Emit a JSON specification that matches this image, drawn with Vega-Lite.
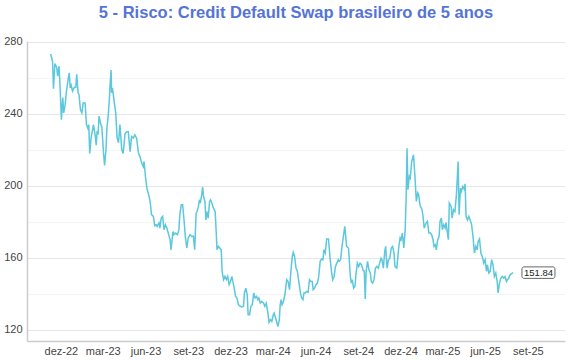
{
  "$schema": "https://vega.github.io/schema/vega-lite/v6.json",
  "width": 538,
  "height": 300,
  "autosize": "none",
  "padding": {"left": 27, "top": 41, "right": 5, "bottom": 19},
  "background": "white",
  "title": {
    "text": "5 - Risco: Credit Default Swap brasileiro de 5 anos",
    "fontSize": 16.5,
    "fontWeight": "bold",
    "font": "Liberation Sans",
    "color": "#5574d4",
    "anchor": "middle",
    "frame": "group",
    "baseline": "alphabetic",
    "offset": 1
  },
  "config": {
    "view": {"stroke": null},
    "font": "Liberation Sans"
  },
  "datasets": {
    "main": [
      {"date": "2022-11-09", "value": 273.3},
      {"date": "2022-11-13", "value": 269},
      {"date": "2022-11-15", "value": 254},
      {"date": "2022-11-18", "value": 268},
      {"date": "2022-11-22", "value": 265.6},
      {"date": "2022-11-24", "value": 261},
      {"date": "2022-11-27", "value": 266.5},
      {"date": "2022-11-29", "value": 256},
      {"date": "2022-12-02", "value": 236.8},
      {"date": "2022-12-05", "value": 249},
      {"date": "2022-12-07", "value": 240.5},
      {"date": "2022-12-10", "value": 245},
      {"date": "2022-12-13", "value": 252.6},
      {"date": "2022-12-17", "value": 260},
      {"date": "2022-12-19", "value": 262.8},
      {"date": "2022-12-21", "value": 254.4},
      {"date": "2022-12-23", "value": 256},
      {"date": "2022-12-26", "value": 252.6},
      {"date": "2022-12-30", "value": 254.8},
      {"date": "2023-01-02", "value": 254.8},
      {"date": "2023-01-04", "value": 262},
      {"date": "2023-01-07", "value": 251.7},
      {"date": "2023-01-09", "value": 250.7},
      {"date": "2023-01-12", "value": 242.4},
      {"date": "2023-01-15", "value": 240.5},
      {"date": "2023-01-18", "value": 246},
      {"date": "2023-01-22", "value": 246},
      {"date": "2023-01-25", "value": 234},
      {"date": "2023-01-28", "value": 232},
      {"date": "2023-01-30", "value": 234},
      {"date": "2023-02-01", "value": 218},
      {"date": "2023-02-04", "value": 226.7},
      {"date": "2023-02-07", "value": 231},
      {"date": "2023-02-09", "value": 234},
      {"date": "2023-02-13", "value": 227.6},
      {"date": "2023-02-15", "value": 222.6},
      {"date": "2023-02-17", "value": 230.4},
      {"date": "2023-02-19", "value": 228.5},
      {"date": "2023-02-21", "value": 238.7},
      {"date": "2023-02-25", "value": 234},
      {"date": "2023-02-27", "value": 233},
      {"date": "2023-03-03", "value": 217.4},
      {"date": "2023-03-05", "value": 211.3},
      {"date": "2023-03-08", "value": 220},
      {"date": "2023-03-10", "value": 232},
      {"date": "2023-03-13", "value": 239.6},
      {"date": "2023-03-15", "value": 247},
      {"date": "2023-03-17", "value": 257},
      {"date": "2023-03-19", "value": 264.4},
      {"date": "2023-03-20", "value": 251.7},
      {"date": "2023-03-22", "value": 254.4},
      {"date": "2023-03-26", "value": 246},
      {"date": "2023-03-29", "value": 240.5},
      {"date": "2023-04-01", "value": 226.7},
      {"date": "2023-04-04", "value": 224},
      {"date": "2023-04-07", "value": 234},
      {"date": "2023-04-11", "value": 220},
      {"date": "2023-04-14", "value": 218},
      {"date": "2023-04-18", "value": 229},
      {"date": "2023-04-22", "value": 230},
      {"date": "2023-04-25", "value": 230},
      {"date": "2023-04-29", "value": 219},
      {"date": "2023-05-02", "value": 227.4},
      {"date": "2023-05-06", "value": 226.5},
      {"date": "2023-05-09", "value": 228.3},
      {"date": "2023-05-13", "value": 226.5},
      {"date": "2023-05-17", "value": 218},
      {"date": "2023-05-20", "value": 216.3},
      {"date": "2023-05-24", "value": 212.6},
      {"date": "2023-05-27", "value": 210.7},
      {"date": "2023-05-29", "value": 213.5},
      {"date": "2023-06-01", "value": 205},
      {"date": "2023-06-04", "value": 198.7},
      {"date": "2023-06-07", "value": 196},
      {"date": "2023-06-11", "value": 191.3},
      {"date": "2023-06-14", "value": 184},
      {"date": "2023-06-18", "value": 183},
      {"date": "2023-06-21", "value": 177.8},
      {"date": "2023-06-24", "value": 178.3},
      {"date": "2023-06-26", "value": 177.4},
      {"date": "2023-06-30", "value": 179.3},
      {"date": "2023-07-02", "value": 176.5},
      {"date": "2023-07-05", "value": 182},
      {"date": "2023-07-08", "value": 183},
      {"date": "2023-07-11", "value": 175.6},
      {"date": "2023-07-14", "value": 178.3},
      {"date": "2023-07-17", "value": 176.5},
      {"date": "2023-07-20", "value": 173.7},
      {"date": "2023-07-24", "value": 170},
      {"date": "2023-07-26", "value": 164.4},
      {"date": "2023-07-30", "value": 174.6},
      {"date": "2023-08-01", "value": 172.8},
      {"date": "2023-08-04", "value": 173.7},
      {"date": "2023-08-09", "value": 172.8},
      {"date": "2023-08-12", "value": 175.6},
      {"date": "2023-08-14", "value": 184},
      {"date": "2023-08-17", "value": 189.4},
      {"date": "2023-08-20", "value": 189.4},
      {"date": "2023-08-23", "value": 181},
      {"date": "2023-08-26", "value": 171},
      {"date": "2023-08-29", "value": 165.4},
      {"date": "2023-09-01", "value": 171},
      {"date": "2023-09-05", "value": 172.8},
      {"date": "2023-09-09", "value": 171.8},
      {"date": "2023-09-12", "value": 172},
      {"date": "2023-09-15", "value": 164.5},
      {"date": "2023-09-18", "value": 184.8},
      {"date": "2023-09-20", "value": 185.7},
      {"date": "2023-09-23", "value": 188.5},
      {"date": "2023-09-25", "value": 192.2},
      {"date": "2023-09-27", "value": 190.4},
      {"date": "2023-09-30", "value": 195},
      {"date": "2023-10-02", "value": 199.3},
      {"date": "2023-10-04", "value": 194},
      {"date": "2023-10-07", "value": 191.3},
      {"date": "2023-10-09", "value": 181},
      {"date": "2023-10-11", "value": 185.7},
      {"date": "2023-10-14", "value": 182},
      {"date": "2023-10-17", "value": 191.3},
      {"date": "2023-10-19", "value": 192.2},
      {"date": "2023-10-22", "value": 190.4},
      {"date": "2023-10-24", "value": 188.5},
      {"date": "2023-10-27", "value": 186.7},
      {"date": "2023-10-29", "value": 185.7},
      {"date": "2023-10-31", "value": 175.6},
      {"date": "2023-11-02", "value": 164.4},
      {"date": "2023-11-05", "value": 166.3},
      {"date": "2023-11-08", "value": 165.4},
      {"date": "2023-11-11", "value": 164.4},
      {"date": "2023-11-13", "value": 152.4},
      {"date": "2023-11-16", "value": 147.8},
      {"date": "2023-11-19", "value": 149.6},
      {"date": "2023-11-22", "value": 147.8},
      {"date": "2023-11-25", "value": 149.6},
      {"date": "2023-11-28", "value": 145},
      {"date": "2023-12-01", "value": 146.8},
      {"date": "2023-12-04", "value": 149.6},
      {"date": "2023-12-06", "value": 146.8},
      {"date": "2023-12-09", "value": 143.1},
      {"date": "2023-12-12", "value": 138.5},
      {"date": "2023-12-15", "value": 137.6},
      {"date": "2023-12-18", "value": 133.9},
      {"date": "2023-12-22", "value": 133},
      {"date": "2023-12-25", "value": 132.6},
      {"date": "2023-12-29", "value": 133},
      {"date": "2023-12-31", "value": 140.4},
      {"date": "2024-01-03", "value": 143.1},
      {"date": "2024-01-06", "value": 139.4},
      {"date": "2024-01-08", "value": 128.3},
      {"date": "2024-01-11", "value": 128.3},
      {"date": "2024-01-14", "value": 133},
      {"date": "2024-01-17", "value": 133.9},
      {"date": "2024-01-20", "value": 140.4},
      {"date": "2024-01-23", "value": 137.6},
      {"date": "2024-01-26", "value": 138.5},
      {"date": "2024-01-29", "value": 136.7},
      {"date": "2024-01-31", "value": 137.6},
      {"date": "2024-02-03", "value": 134.8},
      {"date": "2024-02-06", "value": 135.7},
      {"date": "2024-02-10", "value": 134.8},
      {"date": "2024-02-13", "value": 133},
      {"date": "2024-02-16", "value": 134.8},
      {"date": "2024-02-19", "value": 130.2},
      {"date": "2024-02-22", "value": 124.1},
      {"date": "2024-02-25", "value": 125.6},
      {"date": "2024-02-28", "value": 124.6},
      {"date": "2024-03-02", "value": 128.3},
      {"date": "2024-03-04", "value": 129.3},
      {"date": "2024-03-07", "value": 126.5},
      {"date": "2024-03-10", "value": 123.7},
      {"date": "2024-03-12", "value": 121.8},
      {"date": "2024-03-15", "value": 125.2},
      {"date": "2024-03-17", "value": 133.9},
      {"date": "2024-03-19", "value": 136.7},
      {"date": "2024-03-21", "value": 133.9},
      {"date": "2024-03-24", "value": 135.7},
      {"date": "2024-03-27", "value": 139.4},
      {"date": "2024-03-31", "value": 147.8},
      {"date": "2024-04-03", "value": 146.8},
      {"date": "2024-04-06", "value": 142.2},
      {"date": "2024-04-09", "value": 152.4},
      {"date": "2024-04-12", "value": 160.7},
      {"date": "2024-04-14", "value": 163},
      {"date": "2024-04-17", "value": 160.7},
      {"date": "2024-04-20", "value": 154.2},
      {"date": "2024-04-23", "value": 152.4},
      {"date": "2024-04-26", "value": 146.8},
      {"date": "2024-04-29", "value": 141.3},
      {"date": "2024-05-02", "value": 137.6},
      {"date": "2024-05-05", "value": 136.7},
      {"date": "2024-05-07", "value": 140.4},
      {"date": "2024-05-10", "value": 140.4},
      {"date": "2024-05-13", "value": 141.3},
      {"date": "2024-05-16", "value": 140.8},
      {"date": "2024-05-19", "value": 147.8},
      {"date": "2024-05-22", "value": 146.8},
      {"date": "2024-05-25", "value": 146.8},
      {"date": "2024-05-27", "value": 142.2},
      {"date": "2024-05-30", "value": 143.1},
      {"date": "2024-06-02", "value": 145},
      {"date": "2024-06-05", "value": 145.9},
      {"date": "2024-06-08", "value": 149.6},
      {"date": "2024-06-11", "value": 158},
      {"date": "2024-06-14", "value": 159.3},
      {"date": "2024-06-17", "value": 158.9},
      {"date": "2024-06-19", "value": 164.4},
      {"date": "2024-06-22", "value": 162.6},
      {"date": "2024-06-25", "value": 170.4},
      {"date": "2024-06-29", "value": 170.4},
      {"date": "2024-07-02", "value": 160.7},
      {"date": "2024-07-05", "value": 153.3},
      {"date": "2024-07-08", "value": 147.8},
      {"date": "2024-07-11", "value": 149.6},
      {"date": "2024-07-14", "value": 155.2},
      {"date": "2024-07-17", "value": 157},
      {"date": "2024-07-20", "value": 158.9},
      {"date": "2024-07-22", "value": 158},
      {"date": "2024-07-25", "value": 158.9},
      {"date": "2024-07-28", "value": 166.3},
      {"date": "2024-07-31", "value": 171.8},
      {"date": "2024-08-03", "value": 177.4},
      {"date": "2024-08-07", "value": 166.3},
      {"date": "2024-08-11", "value": 165.4},
      {"date": "2024-08-15", "value": 149.6},
      {"date": "2024-08-17", "value": 145.9},
      {"date": "2024-08-19", "value": 147.8},
      {"date": "2024-08-22", "value": 143.1},
      {"date": "2024-08-25", "value": 144.1},
      {"date": "2024-08-27", "value": 150.6},
      {"date": "2024-08-30", "value": 157},
      {"date": "2024-09-02", "value": 155.2},
      {"date": "2024-09-05", "value": 157},
      {"date": "2024-09-08", "value": 156.1},
      {"date": "2024-09-11", "value": 153.3},
      {"date": "2024-09-14", "value": 152.4},
      {"date": "2024-09-16", "value": 137},
      {"date": "2024-09-18", "value": 152.4},
      {"date": "2024-09-21", "value": 158},
      {"date": "2024-09-24", "value": 153.3},
      {"date": "2024-09-27", "value": 151.5},
      {"date": "2024-09-29", "value": 146.8},
      {"date": "2024-10-02", "value": 145.9},
      {"date": "2024-10-05", "value": 147.8},
      {"date": "2024-10-08", "value": 154.2},
      {"date": "2024-10-11", "value": 155.2},
      {"date": "2024-10-14", "value": 154.2},
      {"date": "2024-10-17", "value": 157},
      {"date": "2024-10-20", "value": 159.8},
      {"date": "2024-10-22", "value": 158.9},
      {"date": "2024-10-25", "value": 154.2},
      {"date": "2024-10-28", "value": 163.5},
      {"date": "2024-10-30", "value": 166.3},
      {"date": "2024-11-02", "value": 154.2},
      {"date": "2024-11-05", "value": 158.9},
      {"date": "2024-11-08", "value": 159.8},
      {"date": "2024-11-11", "value": 165.4},
      {"date": "2024-11-14", "value": 166.3},
      {"date": "2024-11-17", "value": 162.6},
      {"date": "2024-11-19", "value": 155.2},
      {"date": "2024-11-23", "value": 154.2},
      {"date": "2024-11-27", "value": 165.4},
      {"date": "2024-11-30", "value": 171},
      {"date": "2024-12-02", "value": 170},
      {"date": "2024-12-05", "value": 173.7},
      {"date": "2024-12-08", "value": 165.4},
      {"date": "2024-12-11", "value": 175.6},
      {"date": "2024-12-13", "value": 192.2},
      {"date": "2024-12-15", "value": 220.9},
      {"date": "2024-12-17", "value": 197.8},
      {"date": "2024-12-20", "value": 205.2},
      {"date": "2024-12-22", "value": 204.3},
      {"date": "2024-12-25", "value": 213.5},
      {"date": "2024-12-29", "value": 217.2},
      {"date": "2025-01-01", "value": 205.2},
      {"date": "2025-01-04", "value": 191.3},
      {"date": "2025-01-07", "value": 196},
      {"date": "2025-01-09", "value": 195},
      {"date": "2025-01-12", "value": 189},
      {"date": "2025-01-16", "value": 187},
      {"date": "2025-01-18", "value": 183.9},
      {"date": "2025-01-21", "value": 176.5},
      {"date": "2025-01-25", "value": 179.3},
      {"date": "2025-01-28", "value": 180.2},
      {"date": "2025-01-31", "value": 173.7},
      {"date": "2025-02-03", "value": 173.7},
      {"date": "2025-02-06", "value": 172.8},
      {"date": "2025-02-09", "value": 170},
      {"date": "2025-02-11", "value": 166.3},
      {"date": "2025-02-14", "value": 167.2},
      {"date": "2025-02-16", "value": 164.4},
      {"date": "2025-02-19", "value": 170},
      {"date": "2025-02-22", "value": 171.8},
      {"date": "2025-02-24", "value": 180.2},
      {"date": "2025-02-27", "value": 182},
      {"date": "2025-03-01", "value": 175.6},
      {"date": "2025-03-04", "value": 178.3},
      {"date": "2025-03-07", "value": 176.5},
      {"date": "2025-03-09", "value": 179.6},
      {"date": "2025-03-11", "value": 175.6},
      {"date": "2025-03-14", "value": 170},
      {"date": "2025-03-16", "value": 190.4},
      {"date": "2025-03-20", "value": 188.5},
      {"date": "2025-03-22", "value": 182},
      {"date": "2025-03-25", "value": 186.7},
      {"date": "2025-03-28", "value": 185.7},
      {"date": "2025-03-31", "value": 194},
      {"date": "2025-04-02", "value": 203.3},
      {"date": "2025-04-04", "value": 213.5},
      {"date": "2025-04-06", "value": 183.9},
      {"date": "2025-04-09", "value": 198.7},
      {"date": "2025-04-11", "value": 196.9},
      {"date": "2025-04-14", "value": 199.6},
      {"date": "2025-04-17", "value": 198.2},
      {"date": "2025-04-19", "value": 201.1},
      {"date": "2025-04-21", "value": 183},
      {"date": "2025-04-24", "value": 181},
      {"date": "2025-04-27", "value": 183},
      {"date": "2025-04-30", "value": 181},
      {"date": "2025-05-03", "value": 178.3},
      {"date": "2025-05-06", "value": 171.8},
      {"date": "2025-05-09", "value": 162.6},
      {"date": "2025-05-12", "value": 166.3},
      {"date": "2025-05-15", "value": 164.4},
      {"date": "2025-05-17", "value": 169},
      {"date": "2025-05-20", "value": 170.4},
      {"date": "2025-05-23", "value": 162.6},
      {"date": "2025-05-26", "value": 160.7},
      {"date": "2025-05-29", "value": 157},
      {"date": "2025-06-01", "value": 158.9},
      {"date": "2025-06-04", "value": 152.4},
      {"date": "2025-06-06", "value": 156.1},
      {"date": "2025-06-09", "value": 151.5},
      {"date": "2025-06-12", "value": 152.4},
      {"date": "2025-06-15", "value": 158.9},
      {"date": "2025-06-18", "value": 156.1},
      {"date": "2025-06-21", "value": 149.6},
      {"date": "2025-06-24", "value": 151.5},
      {"date": "2025-06-27", "value": 146.8},
      {"date": "2025-06-29", "value": 140.4},
      {"date": "2025-07-02", "value": 145.9},
      {"date": "2025-07-05", "value": 148.7},
      {"date": "2025-07-08", "value": 149.6},
      {"date": "2025-07-11", "value": 148.7},
      {"date": "2025-07-14", "value": 149.6},
      {"date": "2025-07-17", "value": 146.8},
      {"date": "2025-07-19", "value": 147.8},
      {"date": "2025-07-22", "value": 148.7},
      {"date": "2025-07-25", "value": 150.6},
      {"date": "2025-07-28", "value": 151},
      {"date": "2025-07-31", "value": 151.84}
    ],
    "last": [
      {"date": "2025-07-31", "value": 151.84, "label": "151.84"}
    ]
  },
  "encoding": {
    "x": {
      "field": "date",
      "type": "temporal",
      "scale": {
        "type": "utc",
        "domain": [
          {"year": 2022, "month": 9, "date": 19, "utc": true},
          {"year": 2025, "month": 11, "date": 20, "utc": true}
        ]
      },
      "axis": {
        "title": null,
        "grid": false,
        "ticks": false,
        "domainColor": "#cccccc",
        "domainWidth": 1.5,
        "labelColor": "#444444",
        "labelFontSize": 11,
        "labelPadding": 4,
        "labelFont": "Liberation Sans",
        "values": [
          {"year": 2022, "month": 12, "date": 1, "utc": true},
          {"year": 2023, "month": 3, "date": 1, "utc": true},
          {"year": 2023, "month": 6, "date": 1, "utc": true},
          {"year": 2023, "month": 9, "date": 1, "utc": true},
          {"year": 2023, "month": 12, "date": 1, "utc": true},
          {"year": 2024, "month": 3, "date": 1, "utc": true},
          {"year": 2024, "month": 6, "date": 1, "utc": true},
          {"year": 2024, "month": 9, "date": 1, "utc": true},
          {"year": 2024, "month": 12, "date": 1, "utc": true},
          {"year": 2025, "month": 3, "date": 1, "utc": true},
          {"year": 2025, "month": 6, "date": 1, "utc": true},
          {"year": 2025, "month": 9, "date": 1, "utc": true}
        ],
        "labelExpr": "['jan','fev','mar','abr','mai','jun','jul','ago','set','out','nov','dez'][utcmonth(datum.value)] + '-' + utcFormat(datum.value, '%y')"
      }
    },
    "y": {
      "field": "value",
      "type": "quantitative",
      "scale": {"domain": [113.7, 280.5], "nice": false, "zero": false},
      "axis": {
        "title": null,
        "values": [120, 140, 160, 180, 200, 220, 240, 260, 280],
        "labelExpr": "datum.value % 40 == 0 ? datum.label : ''",
        "ticks": false,
        "domainColor": "#cccccc",
        "domainWidth": 1.5,
        "labelColor": "#444444",
        "labelFontSize": 11,
        "labelPadding": 5,
        "labelFont": "Liberation Sans",
        "gridColor": {"condition": {"test": "datum.value % 40 == 0", "value": "#e6e6e6"}, "value": "#f4f4f4"},
        "gridWidth": 1
      }
    }
  },
  "layer": [
    {
      "data": {"name": "main"},
      "mark": {"type": "line", "color": "#5bc8dd", "strokeWidth": 1.5, "interpolate": "linear"}
    },
    {
      "data": {"name": "last"},
      "mark": {"type": "rect", "fill": "white", "stroke": "#666666", "strokeWidth": 1, "cornerRadius": 2, "xOffset": 9, "x2Offset": 42, "yOffset": -5.5, "y2Offset": 6},
      "encoding": {
        "x2": {"field": "date"},
        "y2": {"field": "value"}
      }
    },
    {
      "data": {"name": "last"},
      "mark": {"type": "text", "align": "center", "baseline": "middle", "dx": 25.6, "dy": 0.5, "fontSize": 9.5, "color": "#222222", "font": "Liberation Sans"},
      "encoding": {
        "text": {"field": "label"}
      }
    }
  ]
}
